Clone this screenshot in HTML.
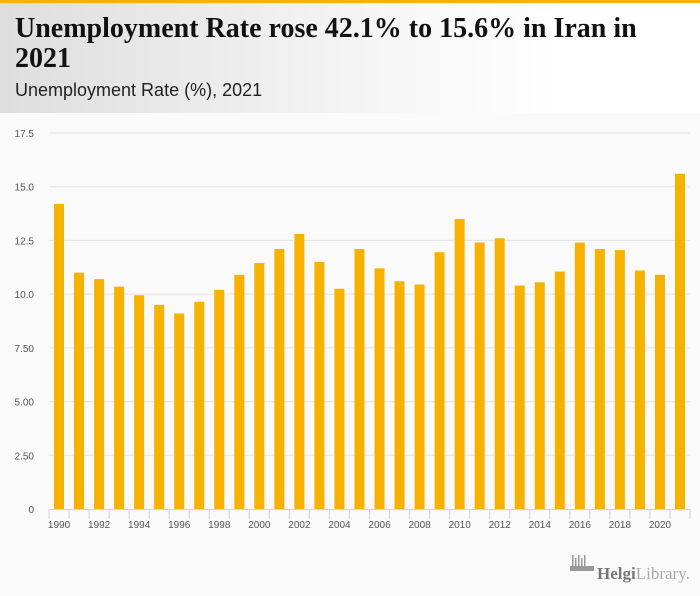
<!DOCTYPE html>
<html><head><meta charset="utf-8">
<style>
body{margin:0;width:700px;height:596px;overflow:hidden;background:#fafafa;font-family:"Liberation Sans",sans-serif;}
#topbar{position:absolute;left:0;top:0;width:700px;height:3px;background:#f7b200;}
#header{position:absolute;left:0;top:3px;width:700px;height:110px;background:linear-gradient(90deg,#dedede 0%,#f2f2f2 45%,#ffffff 80%);}
#title{position:absolute;left:15px;top:14px;font-family:"Liberation Serif",serif;font-weight:bold;font-size:28px;line-height:30px;color:#111;width:680px;}
#subtitle{position:absolute;left:15px;top:80px;font-size:18px;color:#222;}
svg{position:absolute;left:0;top:113px;}
</style></head><body>
<div id="topbar"></div>
<div id="header"></div>
<div id="title">Unemployment Rate rose 42.1% to 15.6% in Iran in<br>2021</div>
<div id="subtitle">Unemployment Rate (%), 2021</div>
<svg id="chart" width="700" height="483"></svg>
<script>
const years=[1990,1991,1992,1993,1994,1995,1996,1997,1998,1999,2000,2001,2002,2003,2004,2005,2006,2007,2008,2009,2010,2011,2012,2013,2014,2015,2016,2017,2018,2019,2020,2021];
const values=[14.2,11.0,10.7,10.35,9.95,9.5,9.1,9.65,10.2,10.9,11.45,12.1,12.8,11.5,10.25,12.1,11.2,10.6,10.45,11.95,13.5,12.4,12.6,10.4,10.55,11.05,12.4,12.1,12.05,11.1,10.9,15.6];
const yTicks=[0,2.5,5,7.5,10,12.5,15,17.5];
const yTickLabels=["0","2.50","5.00","7.50","10.0","12.5","15.0","17.5"];
const NS="http://www.w3.org/2000/svg";
const svg=document.getElementById('chart');
const OFF=113;
const x0=49,x1=690,yBase=509-OFF,yTop=133-OFF,yMax=17.5;
const bw=(x1-x0)/years.length;
const y=v=>yBase-(v/yMax)*(yBase-yTop);
const xc=i=>x0+bw*(i+0.5);
function mk(t,a){const e=document.createElementNS(NS,t);for(const k in a)e.setAttribute(k,a[k]);svg.appendChild(e);return e;}
yTicks.forEach((v,i)=>{
  if(v>0){const g=mk('line',{x1:x0,x2:x1,y1:y(v),y2:y(v),stroke:'#e3e3e3','stroke-width':1});
  
  }
  const t=mk('text',{x:34,y:y(v)+4,'text-anchor':'end','font-size':10,fill:'#555'});
  t.textContent=yTickLabels[i];
  
  
});
values.forEach((v,i)=>{
  const r=mk('rect',{x:xc(i)-5,y:y(v),width:10,height:yBase-y(v),fill:'#f7b200'});
  
  
});
const ax=mk('line',{x1:x0,x2:x1,y1:yBase+0.5,y2:yBase+0.5,stroke:'#c8d3e6'});


for(let i=0;i<=years.length;i++){
  const tk=mk('line',{x1:x0+bw*i,x2:x0+bw*i,y1:yBase,y2:yBase+10,stroke:'#c8d3e6'});
  
  
}
years.forEach((yr,i)=>{
  if(i%2)return;
  const t=mk('text',{x:xc(i),y:yBase+19,'text-anchor':'middle','font-size':10,fill:'#555'});
  t.textContent=yr;
  
  
});
const g=mk('g',{});


for(let k=0;k<5;k++){const r=document.createElementNS(NS,'rect');r.setAttribute('x',572+k*3);r.setAttribute('y',566-OFF-(k%2?8:11));r.setAttribute('width',1.5);r.setAttribute('height',k%2?8:11);r.setAttribute('fill','#999');g.appendChild(r);}
const base=document.createElementNS(NS,'rect');base.setAttribute('x',570);base.setAttribute('y',566-OFF);base.setAttribute('width',24);base.setAttribute('height',5);base.setAttribute('fill','#999');g.appendChild(base);
const lt=document.createElementNS(NS,'text');lt.setAttribute('x',597);lt.setAttribute('y',579-OFF);lt.setAttribute('font-family','Liberation Serif,serif');lt.setAttribute('font-size',17);lt.setAttribute('fill','#888');
lt.innerHTML='<tspan font-weight="bold" fill="#777">Helgi</tspan><tspan fill="#aaa">Library.</tspan>';g.appendChild(lt);
</script>
</body></html>
